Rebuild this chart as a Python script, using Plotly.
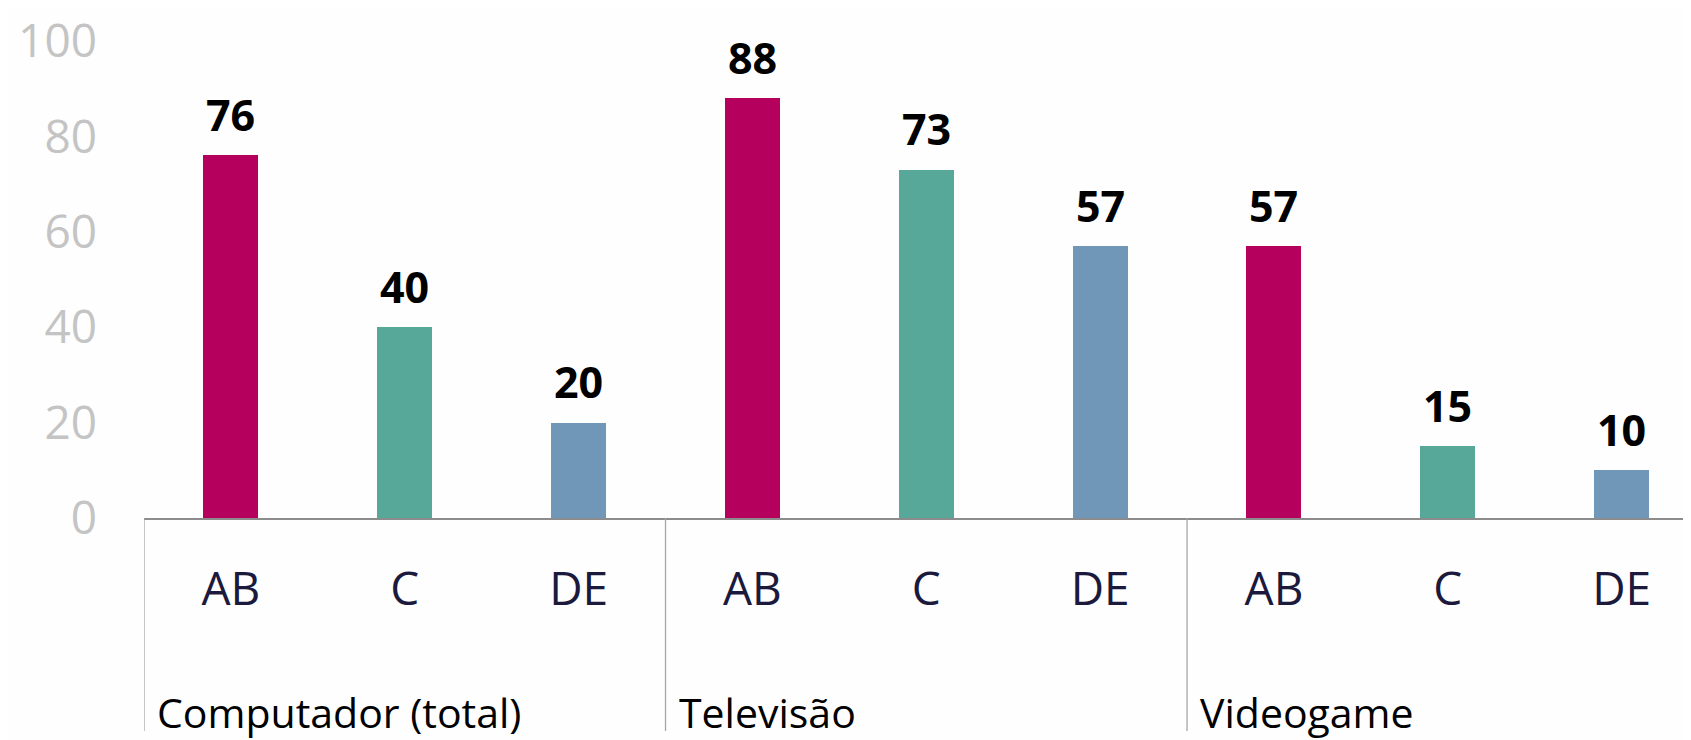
import plotly.graph_objects as go

groups = ["Computador (total)", "Televisão", "Videogame"]
classes = ["AB", "C", "DE"]
values = [76, 40, 20, 88, 73, 57, 57, 15, 10]
class_colors = {"AB": "#B5005E", "C": "#57A898", "DE": "#7097B8"}
y_ticks = [0, 20, 40, 60, 80, 100]

FONT = "Open Sans"
x_pos = list(range(len(groups) * len(classes)))
tick_text = [c for g in groups for c in classes]
bar_colors = [class_colors[c] for c in tick_text]

fig = go.Figure()
fig.add_trace(go.Bar(
    x=x_pos, y=values, width=0.316,
    marker=dict(color=bar_colors, line=dict(width=0)),
    hoverinfo="skip", showlegend=False,
))

# data labels
for xi, v in zip(x_pos, values):
    fig.add_annotation(x=xi, y=v, xref="x", yref="y", text=f"<b>{v}</b>",
                       showarrow=False, yanchor="middle", yshift=41,
                       font=dict(family=FONT, size=43, color="#000000"))

# group labels (left aligned after each divider)
for gi, g in enumerate(groups):
    fig.add_annotation(x=gi * len(classes) - 0.5, y=-0.4068, xref="x", yref="paper",
                       text=g, showarrow=False, xanchor="left", yanchor="middle",
                       xshift=11, font=dict(family=FONT, size=41, color="#000000"))

# dividers
for gi in range(len(groups)):
    fig.add_shape(type="line", xref="x", yref="paper",
                  x0=gi * len(classes) - 0.5, x1=gi * len(classes) - 0.5,
                  y0=0, y1=-0.4466, line=dict(color="#a6a6a6", width=1.3))

fig.update_layout(
    width=1683, height=732,
    margin=dict(l=136.4, r=0, t=27.6, b=222.3, pad=0),
    paper_bgcolor="#fefefe", plot_bgcolor="#fefefe",
    bargap=0,
)
fig.update_xaxes(
    range=[-0.5, 8.399], tickvals=x_pos, ticktext=tick_text,
    showgrid=False, zeroline=False, showline=True, linecolor="#8c8c8c", linewidth=2,
    ticks="", ticklabelstandoff=30, ticklabeloverflow="allow",
    tickfont=dict(family=FONT, size=46, color="#1b1a3d"),
)
fig.update_yaxes(
    range=[0, 100], tickvals=y_ticks, showgrid=False, zeroline=False, showline=False,
    ticks="", ticklabelstandoff=46, ticklabeloverflow="allow",
    tickfont=dict(family=FONT, size=46, color="#c4c4c4"),
)

fig.write_html("out.html")
